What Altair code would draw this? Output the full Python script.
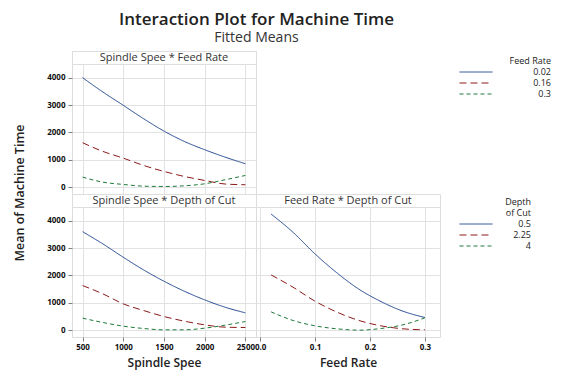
import altair as alt
import pandas as pd

# ---- data ----
spindle = [500, 750, 1000, 1250, 1500, 1750, 2000, 2250, 2500]
feed = [0.02, 0.06, 0.10, 0.14, 0.18, 0.22, 0.26, 0.30]
feed_levels = ["0.02", "0.16", "0.3"]
depth_levels = ["0.5", "2.25", "4"]

# Spindle Speed * Feed Rate
sf_002 = [4000, 3475, 2990, 2500, 2048, 1670, 1367, 1097, 855]
sf_016 = [1623, 1305, 1060, 793, 574, 391, 245, 115, 88]
sf_03 = [366, 183, 99, 37, 25, 50, 123, 270, 428]

# Spindle Speed * Depth of Cut
sd_05 = [3599, 3149, 2663, 2200, 1787, 1422, 1106, 839, 632]
sd_225 = [1629, 1325, 960, 717, 498, 328, 195, 109, 97]
sd_4 = [438, 280, 146, 61, 12, 12, 73, 182, 316]

# Feed Rate * Depth of Cut
fd_05 = [4243, 3574, 2784, 2091, 1495, 1046, 693, 462]
fd_225 = [2018, 1568, 1058, 657, 353, 158, 49, 12]
fd_4 = [669, 353, 158, 49, 0, 61, 195, 450]

y_ticks = [0, 1000, 2000, 3000, 4000]
spindle_ticks = [500, 1000, 1500, 2000, 2500]
feed_ticks = [0.0, 0.1, 0.2, 0.3]

colors = ["#1f4590", "#8b1a1a", "#1f7a3a"]
dashes = [[1, 0], [7, 4], [4, 3]]

FONT = "Open Sans"
W, H, HH = 184, 130, 13
Y_DOMAIN = [-250, 4500]


def long_df(xs, series, levels, xname, gname):
    rows = []
    for lev, ys in zip(levels, series):
        for x, y in zip(xs, ys):
            rows.append({xname: x, gname: lev, "Mean": y})
    return pd.DataFrame(rows)


df_sf = long_df(spindle, [sf_002, sf_016, sf_03], feed_levels, "Spindle", "Feed Rate")
df_sd = long_df(spindle, [sd_05, sd_225, sd_4], depth_levels, "Spindle", "Depth of Cut")
df_fd = long_df(feed, [fd_05, fd_225, fd_4], depth_levels, "Feed", "Depth of Cut")


def make_legend(title, lx, ly, label_offset, title_pad):
    return alt.Legend(
        title=title, orient="none", legendX=lx, legendY=ly,
        symbolType="M-3,0H3", symbolSize=121, symbolStrokeWidth=1,
        labelAlign="right", labelOffset=label_offset,
        titleAnchor="end", titleAlign="right",
        labelFontSize=9, titleFontSize=9, titleFontWeight="normal",
        labelFont=FONT, titleFont=FONT, labelColor="#222", titleColor="#222",
        rowPadding=0, padding=0, titlePadding=title_pad, titleLineHeight=11,
    )


def panel(df, xfield, xdomain, xvals, xfmt, gfield, levels, show_x, show_y, legend, xtitle):
    x_axis = alt.Axis(
        values=xvals, format=xfmt, labels=show_x, ticks=show_x, domain=False,
        title=xtitle if show_x else None, grid=True, gridColor="#e2e2e2",
        labelFontSize=8, labelFontWeight="bold", labelFont=FONT, labelColor="#111",
        tickSize=4, tickColor="#808080", labelPadding=2, labelFlush=False,
        labelOverlap=False, titleFontSize=12, titleFontWeight=600, titleFont=FONT,
        titleColor="#222", titlePadding=6,
    )
    y_axis = alt.Axis(
        values=y_ticks, format="d", labels=show_y, ticks=show_y, domain=False, title=None,
        grid=True, gridColor="#e2e2e2", labelFontSize=8, labelFontWeight="bold",
        labelFont=FONT, labelColor="#111", tickSize=4, tickColor="#808080",
        labelPadding=3, labelOverlap=False,
    )
    return alt.Chart(df).mark_line(strokeWidth=1, interpolate="monotone").encode(
        x=alt.X(f"{xfield}:Q", scale=alt.Scale(domain=xdomain, nice=False, zero=False), axis=x_axis),
        y=alt.Y("Mean:Q", scale=alt.Scale(domain=Y_DOMAIN, nice=False, zero=False), axis=y_axis),
        color=alt.Color(f"{gfield}:N", scale=alt.Scale(domain=levels, range=colors), legend=legend),
        strokeDash=alt.StrokeDash(f"{gfield}:N", scale=alt.Scale(domain=levels, range=dashes), legend=legend),
    ).properties(width=W, height=H)


def header(text):
    return alt.Chart(pd.DataFrame({"t": [text]})).mark_text(
        fontSize=11, font=FONT, color="#333"
    ).encode(text="t:N", x=alt.value(W / 2), y=alt.value(HH / 2 + 0.5)).properties(width=W, height=HH)


def spacer(h):
    return alt.Chart(pd.DataFrame({"t": [0]})).mark_point(opacity=0).encode(
        x=alt.value(0), y=alt.value(0)
    ).properties(width=W, height=h, view=alt.ViewBackground(stroke="transparent"))


p1 = panel(df_sf, "Spindle", [370, 2630], spindle_ticks, "d", "Feed Rate", feed_levels,
           False, True, make_legend("Feed Rate", 398, -7, 69, 0), None)
p2 = panel(df_sd, "Spindle", [370, 2630], spindle_ticks, "d", "Depth of Cut", depth_levels,
           True, True, None, "Spindle Spee")
p3 = panel(df_fd, "Feed", [-0.0075, 0.3275], feed_ticks, ".1f", "Depth of Cut", depth_levels,
           True, False, make_legend(["Depth", "of Cut"], 214, -9, 49, 0), "Feed Rate")

ytitle = alt.Chart(pd.DataFrame({"t": ["Mean of Machine Time"]})).mark_text(
    fontSize=12.5, font=FONT, fontWeight=600, color="#222", angle=270
).encode(text="t:N", x=alt.value(-52), y=alt.value(-14))

p2 = alt.layer(p2, ytitle)

res = dict(color="independent", strokeDash="independent")

chart = alt.concat(
    header("Spindle Spee * Feed Rate"), spacer(HH),
    p1, spacer(H),
    header("Spindle Spee * Depth of Cut"), header("Feed Rate * Depth of Cut"),
    p2, p3,
    columns=2, spacing=0, bounds="flush", align="each",
).resolve_scale(**res).resolve_legend(**res).properties(
    title=alt.TitleParams(
        text="Interaction Plot for Machine Time", subtitle="Fitted Means",
        fontSize=17, fontWeight=600, font=FONT, color="#222",
        subtitleFontSize=14, subtitleFont=FONT, subtitleColor="#333", subtitleFontWeight=500,
        subtitlePadding=2, anchor="middle", offset=2, dx=-26,
    ),
    padding={"left": 5, "top": 2, "right": 5, "bottom": 5},
).configure_view(stroke="#7a7a7a", strokeWidth=1).configure(background="white")

chart.save("out.html", embed_options={"renderer": "svg", "actions": False})
